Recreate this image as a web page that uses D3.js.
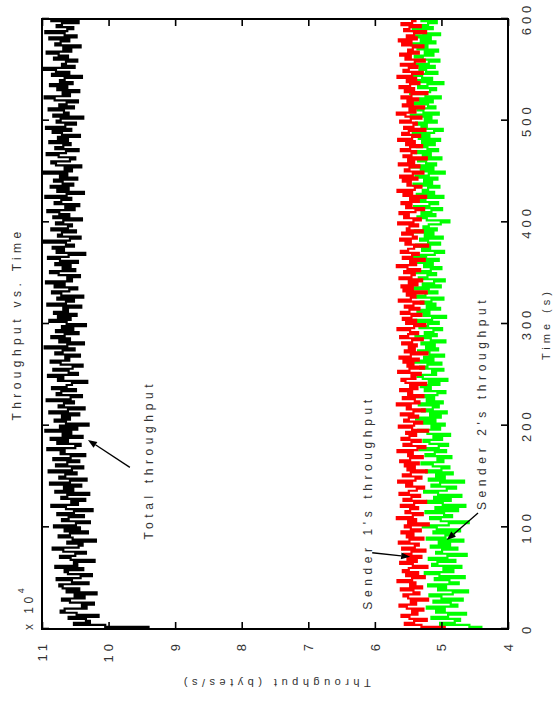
<!DOCTYPE html>
<html>
<head>
<meta charset="utf-8">
<script src="https://cdn.jsdelivr.net/npm/d3@7/dist/d3.min.js"></script>
<style>
  body { margin: 0; background: #fff; }
  svg { display: block; }
  text { font-family: "Liberation Sans", Arial, Helvetica, sans-serif; fill: #333; }
</style>
</head>
<body>
<svg id="chart" width="560" height="704"></svg>
<script>
// Axis ticks
const timeTicks = [0, 100, 200, 300, 400, 500, 600];
const throughputTicks = [4, 5, 6, 7, 8, 9, 10, 11];

// One sample every 2 seconds, 0..600 s; throughput in units of 10^4 bytes/s
const sampleStep = 2;

const totalThroughput = [
  9.40,
  10.05, 10.52, 10.28, 10.34, 10.60, 10.15, 10.48, 10.72, 10.66, 10.33, 10.40, 10.22, 10.58, 10.70, 10.36, 10.51, 10.18, 10.63, 10.44,
  10.69, 10.74, 10.30, 10.55, 10.78, 10.42, 10.25, 10.61, 10.66, 10.38, 10.80, 10.47, 10.52, 10.21, 10.57, 10.73, 10.50, 10.34, 10.68, 10.84,
  10.45, 10.39, 10.62, 10.19, 10.54, 10.75, 10.58, 10.31, 10.66, 10.43, 10.82, 10.49, 10.28, 10.70, 10.60, 10.37, 10.77, 10.52, 10.24, 10.64,
  10.86, 10.46, 10.56, 10.35, 10.71, 10.62, 10.29, 10.80, 10.53, 10.67, 10.41, 10.88, 10.58, 10.33, 10.74, 10.65, 10.48, 10.90, 10.55, 10.38,
  10.79, 10.62, 10.44, 10.83, 10.57, 10.35, 10.72, 10.66, 10.92, 10.50, 10.42, 10.77, 10.61, 10.87, 10.39, 10.69, 10.56, 10.95, 10.47, 10.73,
  10.30, 10.64, 10.81, 10.58, 10.70, 10.44, 10.89, 10.61, 10.36, 10.75, 10.67, 10.52, 10.93, 10.57, 10.40, 10.78, 10.71, 10.49, 10.85, 10.63,
  10.55, 10.32, 10.76, 10.68, 10.91, 10.46, 10.60, 10.83, 10.54, 10.39, 10.72, 10.87, 10.59, 10.65, 10.43, 10.80, 10.69, 10.51, 10.96, 10.62,
  10.37, 10.74, 10.58, 10.86, 10.66, 10.45, 10.79, 10.53, 10.70, 10.34, 10.63, 10.89, 10.57, 10.76, 10.48, 10.82, 10.61, 10.68, 10.41, 10.92,
  10.64, 10.52, 10.77, 10.38, 10.71, 10.85, 10.59, 10.47, 10.81, 10.66, 10.94, 10.55, 10.62, 10.43, 10.75, 10.88, 10.50, 10.69, 10.57, 10.80,
  10.46, 10.73, 10.91, 10.60, 10.35, 10.78, 10.67, 10.84, 10.52, 10.64, 10.97, 10.58, 10.42, 10.76, 10.70, 10.49, 10.86, 10.61, 10.55, 10.79,
  10.68, 10.40, 10.83, 10.59, 10.74, 10.92, 10.51, 10.65, 10.44, 10.81, 10.71, 10.56, 10.95, 10.63, 10.37, 10.77, 10.60, 10.87, 10.53, 10.69,
  10.82, 10.47, 10.73, 10.62, 10.98, 10.55, 10.66, 10.41, 10.79, 10.86, 10.58, 10.50, 10.75, 10.93, 10.64, 10.45, 10.80, 10.68, 10.57, 10.89,
  10.61, 10.76, 10.43, 10.70, 10.84, 10.56, 10.94, 10.65, 10.49, 10.78, 10.72, 10.38, 10.83, 10.60, 10.67, 10.90, 10.52, 10.74, 10.63, 10.46,
  10.81, 10.96, 10.58, 10.69, 10.44, 10.77, 10.62, 10.88, 10.54, 10.73, 10.66, 10.40, 10.85, 10.59, 10.79, 10.97, 10.51, 10.70, 10.64, 10.47,
  10.82, 10.61, 10.75, 10.93, 10.56, 10.68, 10.42, 10.80, 10.72, 10.59, 10.89, 10.48, 10.66, 10.95, 10.62, 10.53, 10.78, 10.70, 10.45, 10.86,
  10.64
];

const sender1Throughput = [
  4.95,
  5.30, 5.55, 5.41, 5.22, 5.48, 5.60, 5.36, 5.44, 5.27, 5.52, 5.63, 5.38, 5.46, 5.20, 5.50, 5.57, 5.33, 5.42, 5.61,
  5.29, 5.47, 5.39, 5.66, 5.44, 5.25, 5.53, 5.35, 5.58, 5.49, 5.21, 5.43, 5.62, 5.37, 5.51, 5.30, 5.56, 5.45, 5.24, 5.59,
  5.40, 5.34, 5.64, 5.48, 5.27, 5.52, 5.42, 5.60, 5.31, 5.46, 5.55, 5.19, 5.50, 5.38, 5.67, 5.43, 5.28, 5.54, 5.47, 5.35,
  5.61, 5.41, 5.23, 5.57, 5.45, 5.32, 5.63, 5.49, 5.37, 5.26, 5.53, 5.44, 5.65, 5.39, 5.30, 5.58, 5.46, 5.22, 5.51, 5.40,
  5.55, 5.34, 5.62, 5.47, 5.28, 5.50, 5.43, 5.66, 5.36, 5.24, 5.57, 5.45, 5.31, 5.60, 5.48, 5.38, 5.53, 5.20, 5.44, 5.64,
  5.41, 5.29, 5.56, 5.49, 5.35, 5.61, 5.42, 5.25, 5.52, 5.46, 5.67, 5.33, 5.40, 5.58, 5.27, 5.50, 5.44, 5.62, 5.36, 5.47,
  5.23, 5.54, 5.60, 5.39, 5.45, 5.31, 5.65, 5.48, 5.26, 5.51, 5.42, 5.57, 5.34, 5.63, 5.46, 5.21, 5.55, 5.40, 5.49, 5.37,
  5.59, 5.44, 5.28, 5.62, 5.50, 5.35, 5.47, 5.66, 5.41, 5.24, 5.53, 5.38, 5.58, 5.45, 5.30, 5.61, 5.48, 5.33, 5.55, 5.42,
  5.27, 5.64, 5.46, 5.39, 5.52, 5.22, 5.57, 5.43, 5.60, 5.36, 5.49, 5.29, 5.63, 5.45, 5.40, 5.56, 5.32, 5.51, 5.67, 5.38,
  5.47, 5.25, 5.58, 5.44, 5.34, 5.61, 5.50, 5.41, 5.20, 5.54, 5.46, 5.62, 5.37, 5.43, 5.59, 5.28, 5.52, 5.48, 5.35, 5.65,
  5.42, 5.31, 5.56, 5.49, 5.63, 5.39, 5.26, 5.53, 5.45, 5.60, 5.34, 5.47, 5.23, 5.57, 5.44, 5.66, 5.40, 5.30, 5.51, 5.46,
  5.58, 5.36, 5.62, 5.43, 5.27, 5.55, 5.48, 5.33, 5.64, 5.41, 5.50, 5.22, 5.57, 5.45, 5.38, 5.61, 5.47, 5.29, 5.53, 5.40,
  5.65, 5.44, 5.32, 5.59, 5.49, 5.24, 5.56, 5.42, 5.37, 5.62, 5.46, 5.30, 5.54, 5.67, 5.39, 5.48, 5.26, 5.58, 5.43, 5.51,
  5.35, 5.60, 5.45, 5.21, 5.55, 5.41, 5.63, 5.47, 5.33, 5.52, 5.38, 5.66, 5.44, 5.28, 5.57, 5.49, 5.36, 5.61, 5.40, 5.25,
  5.54, 5.46, 5.62, 5.34, 5.50, 5.43, 5.27, 5.59, 5.45, 5.64, 5.37, 5.52, 5.41, 5.23, 5.56, 5.48, 5.31, 5.60, 5.44, 5.39,
  5.47
];

const sender2Throughput = [
  4.40,
  4.58, 5.02, 4.80, 4.72, 5.15, 4.90, 4.63, 5.08, 4.95, 5.22, 4.76, 4.86, 5.12, 4.68, 5.00, 5.18, 4.83, 4.60, 5.05,
  4.93, 5.20, 4.74, 4.88, 5.10, 4.65, 5.03, 5.25, 4.82, 4.97, 4.70, 5.14, 5.06, 4.79, 5.19, 4.91, 4.62, 5.08, 4.99, 4.76,
  5.16, 4.87, 5.04, 4.67, 5.22, 4.94, 4.81, 5.12, 4.72, 5.07, 5.28, 4.89, 4.59, 5.01, 5.17, 4.84, 4.96, 5.24, 4.75, 5.09,
  4.64, 4.98, 5.21, 4.86, 5.11, 4.70, 5.05, 5.26, 4.92, 4.78, 5.15, 5.02, 4.66, 5.19, 4.95, 5.08, 4.83, 5.23, 5.00, 4.88,
  5.13, 5.30, 4.97, 5.06, 4.85, 5.24, 5.10, 4.93, 5.33, 5.04, 4.90, 5.18, 5.27, 4.99, 5.12, 4.87, 5.21, 5.35, 5.02, 5.15,
  4.95, 5.26, 5.09, 5.38, 5.01, 5.17, 4.92, 5.29, 5.13, 5.04, 5.34, 4.98, 5.22, 5.11, 5.40, 5.06, 4.94, 5.25, 5.16, 5.31,
  5.03, 5.19, 4.91, 5.28, 5.36, 5.08, 5.14, 4.97, 5.32, 5.21, 5.00, 5.43, 5.12, 5.26, 4.96, 5.18, 5.35, 5.05, 5.23, 5.10,
  5.30, 4.94, 5.16, 5.39, 5.07, 5.25, 5.12, 4.99, 5.33, 5.20, 5.04, 5.41, 5.14, 4.93, 5.27, 5.18, 5.36, 5.02, 5.22, 5.09,
  5.31, 5.15, 4.97, 5.37, 5.24, 5.06, 5.19, 5.42, 5.01, 5.28, 5.11, 4.95, 5.34, 5.21, 5.08, 5.39, 5.16, 5.00, 5.26, 5.13,
  5.35, 5.04, 5.23, 5.44, 5.10, 4.96, 5.29, 5.17, 5.38, 5.02, 5.20, 5.32, 4.98, 5.25, 5.12, 5.40, 5.07, 5.27, 5.19, 5.01,
  4.88, 5.22, 5.36, 5.09, 5.30, 5.15, 4.99, 5.41, 5.18, 5.05, 5.33, 5.24, 4.97, 5.37, 5.11, 5.28, 5.20, 5.03, 5.42, 5.14,
  5.26, 5.06, 5.39, 5.19, 4.95, 5.31, 5.12, 5.45, 5.08, 5.23, 5.35, 5.00, 5.28, 5.16, 5.40, 5.05, 5.21, 5.37, 5.10, 5.29,
  5.02, 5.34, 5.18, 5.43, 5.11, 4.98, 5.30, 5.22, 5.38, 5.07, 5.25, 5.15, 5.46, 5.04, 5.27, 5.36, 5.09, 5.20, 5.41, 5.13,
  5.32, 5.01, 5.24, 5.47, 5.17, 5.08, 5.35, 5.21, 4.97, 5.39, 5.14, 5.29, 5.44, 5.06, 5.23, 5.33, 5.10, 5.42, 5.19, 5.03,
  5.28, 5.40, 5.12, 5.25, 5.05, 5.36, 5.21, 5.45, 5.09, 5.31, 5.16, 5.38, 5.02, 5.27, 5.43, 5.13, 5.34, 5.20, 5.07, 5.30,
  5.22
];

// Annotation callouts: text anchor and arrow tail/tip, in data units (time s, 10^4 bytes/s)
const callouts = [
  { label: "Total throughput",      text: [88, 9.33],  tail: [159, 9.68], tip: [186, 10.31] },
  { label: "Sender 1's throughput", text: [19, 6.04],  tail: [75, 6.04],  tip: [71, 5.47] },
  { label: "Sender 2's throughput", text: [117, 4.33], tail: [114, 4.45], tip: [87.5, 4.92] }
];

const svg = d3.select("#chart");

// The figure is laid out in a 704 x 560 landscape frame, then turned a quarter turn counter-clockwise
const W = 704, H = 560;
const g = svg.append("g").attr("transform", `translate(0,${W}) rotate(-90)`);

const x = d3.scaleLinear().domain([0, 600]).range([75, 685]);
const y = d3.scaleLinear().domain([4, 11]).range([508, 42]);

g.append("clipPath").attr("id", "plotClip")
  .append("rect")
  .attr("x", x(0)).attr("y", y(11))
  .attr("width", x(600) - x(0)).attr("height", y(4) - y(11));

// Data lines, each sample held until the next one
const line = d3.line()
  .curve(d3.curveStepAfter)
  .x((d, i) => x(i * sampleStep))
  .y(d => y(d));

const plot = g.append("g").attr("clip-path", "url(#plotClip)");
[
  { data: totalThroughput,   color: "#000000" },
  { data: sender2Throughput, color: "#00ff00" },
  { data: sender1Throughput, color: "#ff0000" }
].forEach(s => {
  plot.append("path")
    .datum(s.data)
    .attr("d", line)
    .attr("fill", "none")
    .attr("stroke", s.color)
    .attr("stroke-width", 2.2)
    .attr("stroke-linejoin", "miter");
});

// Axes with inward ticks on all four sides
function styleAxis(sel) {
  sel.select(".domain").remove();
  sel.selectAll(".tick line").attr("stroke", "#000").attr("stroke-width", 1.6);
  sel.selectAll(".tick text")
    .attr("font-size", 13)
    .attr("letter-spacing", 4)
    .attr("fill", "#333");
}

g.append("g")
  .attr("transform", `translate(0,${y(4)})`)
  .call(d3.axisBottom(x).tickValues(timeTicks).tickFormat(d3.format("d"))
    .tickSizeInner(-7).tickSizeOuter(0).tickPadding(14))
  .call(styleAxis);

g.append("g")
  .attr("transform", `translate(0,${y(11)})`)
  .call(d3.axisTop(x).tickValues(timeTicks).tickSizeInner(-7).tickSizeOuter(0).tickFormat(""))
  .call(styleAxis);

g.append("g")
  .attr("transform", `translate(${x(0)},0)`)
  .call(d3.axisLeft(y).tickValues(throughputTicks).tickFormat(d3.format("d"))
    .tickSizeInner(-7).tickSizeOuter(0).tickPadding(11))
  .call(styleAxis);

g.append("g")
  .attr("transform", `translate(${x(600)},0)`)
  .call(d3.axisRight(y).tickValues(throughputTicks).tickSizeInner(-7).tickSizeOuter(0).tickFormat(""))
  .call(styleAxis);

// Plot box
g.append("rect")
  .attr("x", x(0)).attr("y", y(11))
  .attr("width", x(600) - x(0)).attr("height", y(4) - y(11))
  .attr("fill", "none")
  .attr("stroke", "#000")
  .attr("stroke-width", 2);

// Exponent marker for the throughput axis
const expo = g.append("text")
  .attr("x", x(0) - 1)
  .attr("y", y(11) - 9)
  .attr("font-size", 12)
  .attr("letter-spacing", 3.5);
expo.append("tspan").text("x 10");
expo.append("tspan").attr("dy", -9).attr("font-size", 9).text("4");

// Title and axis labels
g.append("text")
  .attr("x", (x(0) + x(600)) / 2)
  .attr("y", 21)
  .attr("text-anchor", "middle")
  .attr("font-size", 12)
  .attr("letter-spacing", 4.4)
  .text("Throughput vs. Time");

g.append("text")
  .attr("x", (x(0) + x(600)) / 2)
  .attr("y", 550)
  .attr("text-anchor", "middle")
  .attr("font-size", 11)
  .attr("letter-spacing", 4)
  .text("Time (s)");

g.append("text")
  .attr("transform", `translate(25,${(y(4) + y(11)) / 2}) rotate(-90)`)
  .attr("text-anchor", "middle")
  .attr("font-size", 11)
  .attr("letter-spacing", 4.5)
  .text("Throughput (bytes/s)");

// Callouts with arrows
callouts.forEach(c => {
  g.append("text")
    .attr("x", x(c.text[0]))
    .attr("y", y(c.text[1]))
    .attr("font-size", 12)
    .attr("letter-spacing", 4.6)
    .text(c.label);

  const x0 = x(c.tail[0]), y0 = y(c.tail[1]);
  const x1 = x(c.tip[0]),  y1 = y(c.tip[1]);
  const ang = Math.atan2(y1 - y0, x1 - x0);
  const len = 9, half = 3.5;
  const bx = x1 - len * Math.cos(ang), by = y1 - len * Math.sin(ang);

  g.append("line")
    .attr("x1", x0).attr("y1", y0)
    .attr("x2", bx).attr("y2", by)
    .attr("stroke", "#000")
    .attr("stroke-width", 1.3);

  g.append("path")
    .attr("d", `M${x1},${y1}L${bx - half * Math.sin(ang)},${by + half * Math.cos(ang)}L${bx + half * Math.sin(ang)},${by - half * Math.cos(ang)}Z`)
    .attr("fill", "#000");
});
</script>
</body>
</html>
